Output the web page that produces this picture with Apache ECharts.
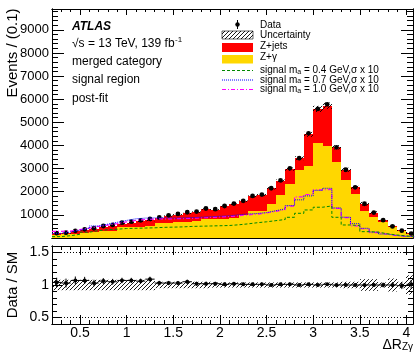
<!DOCTYPE html>
<html><head><meta charset="utf-8">
<script src="https://cdn.jsdelivr.net/npm/echarts@6/dist/echarts.min.js"></script>
<style>html,body{margin:0;padding:0;background:#fff}#c{width:417px;height:352px}</style>
</head><body><div id="c"></div>
<script>
// ---------------- data ----------------
const binLow = [0.2,0.3,0.4,0.5,0.6,0.7,0.8,0.9,1.0,1.1,1.2,1.3,1.4,1.5,1.6,1.7,1.8,1.9,2.0,2.1,2.2,2.3,2.4,2.5,2.6,2.7,2.8,2.9,3.0,3.1,3.2,3.3,3.4,3.5,3.6,3.7,3.8,3.9,4.0];
const binWidth = 0.1;
const zGamma = [130,155,175,230,270,300,320,480,490,495,520,660,670,700,710,750,800,800,840,880,1000,1160,1180,1450,1850,2330,2950,3100,4100,3990,3300,2520,1900,1160,900,680,465,315,190];
const zJets  = [70,65,115,120,140,190,220,140,170,225,240,200,280,310,350,370,450,420,530,580,590,640,680,700,620,650,500,1380,1480,1730,620,430,290,320,200,90,50,20,15];
const dataCounts = [208,227,310,375,422,519,567,663,706,763,828,886,979,1040,1113,1142,1275,1244,1384,1489,1606,1818,1879,2150,2495,3010,3450,4525,5580,5777,3920,2950,2190,1480,1100,770,500,317,192];
const ratioVals = [1.04,1.03,1.07,1.07,1.03,1.06,1.05,1.07,1.07,1.06,1.09,1.03,1.03,1.03,1.05,1.02,1.02,1.02,1.01,1.02,1.01,1.01,1.01,1.00,1.01,1.01,1.00,1.01,1.00,1.01,1.00,1.00,1.00,1.00,1.00,1.00,1.00,0.99,1.01];
const relUnc = [0.08,0.08,0.08,0.08,0.08,0.08,0.08,0.08,0.08,0.08,0.08,0.05,0.05,0.05,0.05,0.05,0.05,0.04,0.04,0.04,0.04,0.04,0.04,0.04,0.04,0.04,0.04,0.04,0.04,0.04,0.04,0.05,0.05,0.09,0.09,0.04,0.10,0.05,0.15];
const sig04 = [60,100,160,250,320,360,380,410,420,430,440,460,470,480,500,510,520,530,540,570,610,660,700,750,800,895,1068,1212,1330,1385,895,563,535,274,250,180,130,90,60];
const sig07 = [200,260,340,420,520,600,680,760,830,860,870,870,860,870,880,900,920,940,960,1000,1040,1060,1100,1180,1260,1400,1650,1820,2060,2150,1300,900,620,420,260,170,110,70,50];
const sig10 = [290,300,360,430,500,560,620,700,760,800,820,830,830,840,850,870,890,910,930,960,1000,1030,1080,1150,1230,1380,1780,1880,2080,2100,1280,880,520,400,230,160,100,80,60];
const xTickValues = [0.5,1,1.5,2,2.5,3,3.5,4];
const yTickValues = [1000,2000,3000,4000,5000,6000,7000,8000,9000];
const ratioTickValues = [0.5,1,1.5];

// ---------------- helpers ----------------
const FONT = "'Liberation Sans', Arial, Helvetica, sans-serif";
const XMIN = 0.2, XMAX = 4.07;
function range(a, b, step){ const out=[]; const n=Math.round((b-a)/step); for(let k=0;k<=n;k++) out.push(+(a+k*step).toFixed(6)); return out; }
const xMinor = range(0.2, 4.0, 0.1);
const yMinor = range(0, 9800, 200);
const rMinor = range(0.4, 1.6, 0.1);

function hatchCanvas(){
  const c=document.createElement('canvas'); c.width=4; c.height=4;
  const g=c.getContext('2d'); g.strokeStyle='#000'; g.lineWidth=0.9;
  g.beginPath(); g.moveTo(0,4); g.lineTo(4,0); g.moveTo(-1,1); g.lineTo(1,-1); g.moveTo(3,5); g.lineTo(5,3); g.stroke();
  return c;
}
const hatch = {image: hatchCanvas(), repeat:'repeat'};
function textWidth(t, font){ const g=document.createElement('canvas').getContext('2d'); g.font=font; return g.measureText(t).width; }

function xAx(grid, pos, vals, len, showLabel){
  return {type:'value', gridIndex:grid, position:pos, min:XMIN, max:XMAX,
    axisLine:{show:true, onZero:false, lineStyle:{color:'#000', width:1}},
    axisTick:{show:true, inside:true, length:len, customValues:vals, lineStyle:{color:'#000', width:1}},
    axisLabel: showLabel ? {show:true, customValues:vals, color:'#000', fontFamily:FONT, fontSize:14, margin:2, formatter:v=>String(v)} : {show:false},
    splitLine:{show:false}};
}
function yAx(grid, pos, min, max, vals, len, showLabel, fs){
  return {type:'value', gridIndex:grid, position:pos, min:min, max:max,
    axisLine:{show:true, onZero:false, lineStyle:{color:'#000', width:1}},
    axisTick:{show:true, inside:true, length:len, customValues:vals, lineStyle:{color:'#000', width:1}},
    axisLabel: showLabel ? {show:true, customValues:vals, color:'#000', fontFamily:FONT, fontSize:fs, margin:3, formatter:v=>String(v)} : {show:false},
    splitLine:{show:false}};
}

const stackRows = binLow.map((x,i)=>[x, x+binWidth, zGamma[i], zJets[i]]);
const uncRows = binLow.map((x,i)=>[x, x+binWidth, zGamma[i]+zJets[i], relUnc[i]]);
const dataRows = binLow.map((x,i)=>[x+binWidth/2, dataCounts[i], Math.sqrt(dataCounts[i])]);
const ratioBandRows = binLow.map((x,i)=>[x, x+binWidth, 1, relUnc[i]]);
const ratioRows = binLow.map((x,i)=>[x, x+binWidth, ratioVals[i], Math.sqrt(dataCounts[i])/(zGamma[i]+zJets[i])]);
function stepData(v){ const d=binLow.map((x,i)=>[x, v[i]]); d.push([binLow[binLow.length-1]+binWidth, v[v.length-1]]); return d; }

const lumiText = '√s = 13 TeV, 139 fb';
const lumiFont = "12px "+FONT;
const lumiW = textWidth(lumiText, lumiFont);

const R = Math.round;
const option = {
  animation:false,
  grid:[{left:52, top:9, width:361, height:229},{left:52, top:246, width:361, height:78}],
  xAxis:[
    xAx(0,'bottom',xTickValues,6,false), xAx(0,'bottom',xMinor,3,false),
    xAx(0,'top',xTickValues,6,false), xAx(0,'top',xMinor,3,false),
    xAx(1,'bottom',xTickValues,9,true), xAx(1,'bottom',xMinor,4,false),
    xAx(1,'top',xTickValues,9,false), xAx(1,'top',xMinor,4,false)
  ],
  yAxis:[
    yAx(0,'left',0,9900,yTickValues,12,true,13), yAx(0,'left',0,9900,yMinor,6,false),
    yAx(0,'right',0,9900,yTickValues,12,false), yAx(0,'right',0,9900,yMinor,6,false),
    yAx(1,'left',0.4,1.6,ratioTickValues,10,true,14), yAx(1,'left',0.4,1.6,rMinor,5,false),
    yAx(1,'right',0.4,1.6,ratioTickValues,10,false), yAx(1,'right',0.4,1.6,rMinor,5,false)
  ],
  series:[
    {type:'custom', name:'stack', xAxisIndex:0, yAxisIndex:0, clip:true, data:stackRows, encode:{x:[0,1], y:[2,3]},
     renderItem:(p,api)=>{
       const x0=api.value(0), x1=api.value(1), a=api.value(2), b=api.value(3);
       const p0=api.coord([x0,0]), p1=api.coord([x1,a]), p2=api.coord([x1,a+b]);
       const L=R(p0[0]), Rr=R(p1[0]), yb=R(p0[1]), ya=R(p1[1]), yt=R(p2[1]);
       return {type:'group', children:[
         {type:'rect', shape:{x:L, y:ya, width:Rr-L, height:yb-ya}, style:{fill:'#ffd700'}},
         {type:'rect', shape:{x:L, y:yt, width:Rr-L, height:ya-yt}, style:{fill:'#ff0000'}}
       ]};
     }},
    {type:'line', name:'sig10', xAxisIndex:0, yAxisIndex:0, step:'end', symbol:'none', data:stepData(sig10),
     lineStyle:{color:'#ff00ff', width:1.2, type:[4,2,1,2]}},
    {type:'line', name:'sig07', xAxisIndex:0, yAxisIndex:0, step:'end', symbol:'none', data:stepData(sig07),
     lineStyle:{color:'#0000ff', width:1, type:[1,1]}},
    {type:'line', name:'sig04', xAxisIndex:0, yAxisIndex:0, step:'end', symbol:'none', data:stepData(sig04),
     lineStyle:{color:'#008800', width:1, type:[3,2]}},
    {type:'custom', name:'unc', xAxisIndex:0, yAxisIndex:0, clip:true, data:uncRows, encode:{x:[0,1], y:2},
     renderItem:(p,api)=>{
       const x0=api.value(0), x1=api.value(1), t=api.value(2), e=api.value(3);
       const a=api.coord([x0,t*(1+e*0.6)]), b=api.coord([x1,t*(1-e*0.6)]);
       return {type:'rect', shape:{x:R(a[0]), y:a[1], width:R(b[0])-R(a[0]), height:Math.max(1,b[1]-a[1])}, style:{fill:hatch}};
     }},
    {type:'custom', name:'data', xAxisIndex:0, yAxisIndex:0, clip:true, data:dataRows, encode:{x:0, y:1},
     renderItem:(p,api)=>{
       const x=api.value(0), v=api.value(1), e=api.value(2);
       const c=api.coord([x,v]), hi=api.coord([x,v+e]), lo=api.coord([x,v-e]);
       return {type:'group', children:[
         {type:'line', shape:{x1:c[0], y1:hi[1], x2:c[0], y2:lo[1]}, style:{stroke:'#000', lineWidth:1}},
         {type:'circle', shape:{cx:c[0], cy:c[1], r:2.4}, style:{fill:'#000'}}
       ]};
     }},
    // ratio panel
    {type:'custom', name:'ratioBand', xAxisIndex:4, yAxisIndex:4, clip:true, data:ratioBandRows, encode:{x:[0,1], y:2},
     renderItem:(p,api)=>{
       const x0=api.value(0), x1=api.value(1), c=api.value(2), e=api.value(3);
       const a=api.coord([x0,c+e]), b=api.coord([x1,c-e]);
       return {type:'rect', shape:{x:R(a[0]), y:a[1], width:R(b[0])-R(a[0]), height:b[1]-a[1]}, style:{fill:hatch}};
     }},
    {type:'line', name:'l15', xAxisIndex:4, yAxisIndex:4, symbol:'none', data:[[XMIN,1.5],[XMAX,1.5]], lineStyle:{color:'#000', width:1, type:[1,2]}},
    {type:'line', name:'l05', xAxisIndex:4, yAxisIndex:4, symbol:'none', data:[[XMIN,0.5],[XMAX,0.5]], lineStyle:{color:'#000', width:1, type:[1,2]}},
    {type:'custom', name:'ratio', xAxisIndex:4, yAxisIndex:4, clip:true, data:ratioRows, encode:{x:[0,1], y:2},
     renderItem:(p,api)=>{
       const x0=api.value(0), x1=api.value(1), r=api.value(2), e=api.value(3);
       const xc=(x0+x1)/2;
       const L=api.coord([x0,r]), Rr=api.coord([x1,r]), hi=api.coord([xc,r+e]), lo=api.coord([xc,r-e]);
       return {type:'group', children:[
         {type:'line', shape:{x1:L[0], y1:L[1], x2:Rr[0], y2:Rr[1]}, style:{stroke:'#000', lineWidth:1}},
         {type:'line', shape:{x1:hi[0], y1:hi[1], x2:lo[0], y2:lo[1]}, style:{stroke:'#000', lineWidth:1}},
         {type:'circle', shape:{cx:hi[0], cy:L[1], r:2}, style:{fill:'#000'}}
       ]};
     }}
  ],
  graphic:[
    // axis titles
    {type:'text', x:13, y:53, rotation:Math.PI/2, style:{text:'Events / (0.1)', font:"15px "+FONT, fill:'#000', align:'center', verticalAlign:'middle'}},
    {type:'text', x:13, y:285, rotation:Math.PI/2, style:{text:'Data / SM', font:"15px "+FONT, fill:'#000', align:'center', verticalAlign:'middle'}},
    {type:'text', x:413, y:345, style:{text:'{a|ΔR}{b|Zγ}', align:'right', verticalAlign:'middle', rich:{a:{font:"14px "+FONT, fill:'#000', lineHeight:14, verticalAlign:'bottom'}, b:{font:"10px "+FONT, fill:'#000', lineHeight:7, verticalAlign:'bottom'}}}},
    // ATLAS labels
    {type:'text', x:72, y:27, style:{text:'ATLAS', font:"italic bold 12px "+FONT, fill:'#000', align:'left', verticalAlign:'middle'}},
    {type:'text', x:72, y:44, style:{text:lumiText, font:lumiFont, fill:'#000', align:'left', verticalAlign:'middle'}},
    {type:'text', x:72+lumiW+0.5, y:39.5, style:{text:'-1', font:"8px "+FONT, fill:'#000', align:'left', verticalAlign:'middle'}},
    {type:'text', x:72, y:62, style:{text:'merged category', font:"12px "+FONT, fill:'#000', align:'left', verticalAlign:'middle'}},
    {type:'text', x:72, y:80, style:{text:'signal region', font:"12px "+FONT, fill:'#000', align:'left', verticalAlign:'middle'}},
    {type:'text', x:72, y:99, style:{text:'post-fit', font:"12px "+FONT, fill:'#000', align:'left', verticalAlign:'middle'}},
    // legend symbols
    {type:'line', shape:{x1:237.5, y1:20, x2:237.5, y2:29}, style:{stroke:'#000', lineWidth:1}},
    {type:'circle', shape:{cx:237.5, cy:24.5, r:2.2}, style:{fill:'#000'}},
    {type:'rect', shape:{x:222, y:31, width:31, height:8}, style:{fill:hatch, stroke:'#000', lineWidth:0.6}},
    {type:'rect', shape:{x:222, y:43, width:31, height:9}, style:{fill:'#ff0000'}},
    {type:'rect', shape:{x:222, y:55, width:31, height:8.5}, style:{fill:'#ffd700'}},
    {type:'line', shape:{x1:222, y1:70.5, x2:253, y2:70.5}, style:{stroke:'#008800', lineWidth:1, lineDash:[3,2]}},
    {type:'line', shape:{x1:222, y1:80, x2:253, y2:80}, style:{stroke:'#0000ff', lineWidth:1, lineDash:[1,1]}},
    {type:'line', shape:{x1:222, y1:89.5, x2:253, y2:89.5}, style:{stroke:'#ff00ff', lineWidth:1.2, lineDash:[4,2,1,2]}},
    // legend texts
    {type:'text', x:260, y:25, style:{text:'Data', font:"10px "+FONT, fill:'#000', align:'left', verticalAlign:'middle'}},
    {type:'text', x:260, y:35, style:{text:'Uncertainty', font:"10px "+FONT, fill:'#000', align:'left', verticalAlign:'middle'}},
    {type:'text', x:260, y:46.5, style:{text:'Z+jets', font:"10px "+FONT, fill:'#000', align:'left', verticalAlign:'middle'}},
    {type:'text', x:260, y:57, style:{text:'Z+γ', font:"10px "+FONT, fill:'#000', align:'left', verticalAlign:'middle'}},
    {type:'text', x:260, y:70, style:{text:'{a|signal m}{b|a}{a| = 0.4 GeV,σ x 10}', align:'left', verticalAlign:'middle', rich:{a:{font:"10px "+FONT, fill:'#000', lineHeight:11, verticalAlign:'bottom'}, b:{font:"7px "+FONT, fill:'#000', lineHeight:4, verticalAlign:'bottom'}}}},
    {type:'text', x:260, y:79.5, style:{text:'{a|signal m}{b|a}{a| = 0.7 GeV,σ x 10}', align:'left', verticalAlign:'middle', rich:{a:{font:"10px "+FONT, fill:'#000', lineHeight:11, verticalAlign:'bottom'}, b:{font:"7px "+FONT, fill:'#000', lineHeight:4, verticalAlign:'bottom'}}}},
    {type:'text', x:260, y:89, style:{text:'{a|signal m}{b|a}{a| = 1.0 GeV,σ x 10}', align:'left', verticalAlign:'middle', rich:{a:{font:"10px "+FONT, fill:'#000', lineHeight:11, verticalAlign:'bottom'}, b:{font:"7px "+FONT, fill:'#000', lineHeight:4, verticalAlign:'bottom'}}}}
  ]
};
const chart = echarts.init(document.getElementById('c'), null, {renderer:'canvas'});
chart.setOption(option);
</script>
</body></html>
